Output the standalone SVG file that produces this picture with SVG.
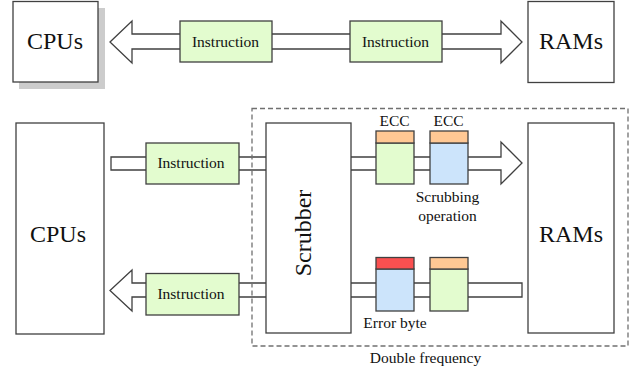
<svg xmlns="http://www.w3.org/2000/svg" width="643" height="371" viewBox="0 0 643 371" font-family="Liberation Serif, Times New Roman, serif">
<style>
.box{fill:#fff;stroke:#404040;stroke-width:1.3}
.arrow{fill:#fff;stroke:#404040;stroke-width:1.3;stroke-linejoin:miter}
.instr{fill:#e3fccf;stroke:#404040;stroke-width:1.3}
.green{fill:#e3fccf;stroke:#404040;stroke-width:1.3}
.blue{fill:#cce4fb;stroke:#404040;stroke-width:1.3}
.orange{fill:#ffc894;stroke:#404040;stroke-width:1.3}
.red{fill:#fa5050;stroke:#404040;stroke-width:1.3}
.frame{fill:none;stroke:#707070;stroke-width:1.3;stroke-dasharray:5 3}
text{fill:#111;text-anchor:middle}
.big{font-size:24px}
.mid{font-size:15.5px}
</style>
<g id="connectors">
<polygon class="arrow" points="110,42 132,21 132,34 501,34 501,21 522,42 501,63 501,49 132,49 132,63"/>
<polygon class="arrow" points="111,157 501,157 501,142 522,163 501,184 501,170 111,170"/>
<polygon class="arrow" points="522,283 132,283 132,270 110,290.5 132,311 132,297 522,297"/>
</g>
<g id="cpus-top">
<rect x="19" y="8" width="86" height="81" fill="#cccccc"/>
<rect class="box" x="13" y="1.5" width="85" height="80.5"/>
<text class="big" x="55" y="49">CPUs</text>
</g>
<g id="rams-top">
<rect class="box" x="528" y="1.5" width="86" height="81"/>
<text class="big" x="571" y="48.5">RAMs</text>
</g>
<g id="instruction-top-1">
<rect class="instr" x="180" y="21" width="92" height="41"/>
<text class="mid" x="225.5" y="46.5">Instruction</text>
</g>
<g id="instruction-top-2">
<rect class="instr" x="350" y="21" width="92" height="41"/>
<text class="mid" x="395.5" y="46.5">Instruction</text>
</g>
<g id="cpus-bottom">
<rect class="box" x="16" y="123" width="88" height="211"/>
<text class="big" x="58" y="242">CPUs</text>
</g>
<g id="scrubber">
<rect class="box" x="266" y="123" width="85" height="210"/>
<text class="big" transform="translate(311,233) rotate(-90)" x="0" y="0">Scrubber</text>
</g>
<g id="rams-bottom">
<rect class="box" x="528" y="123" width="86" height="210"/>
<text class="big" x="571" y="242">RAMs</text>
</g>
<g id="instruction-bottom-1">
<rect class="instr" x="146" y="143" width="93" height="41"/>
<text class="mid" x="191" y="168">Instruction</text>
</g>
<g id="instruction-bottom-2">
<rect class="instr" x="146" y="273.5" width="93" height="41.5"/>
<text class="mid" x="191" y="299">Instruction</text>
</g>
<g id="packet-ecc-1">
<rect class="green" x="376" y="143" width="38" height="41"/>
<rect class="orange" x="376" y="131" width="38" height="12"/>
<text class="mid" x="394.5" y="126">ECC</text>
</g>
<g id="packet-ecc-2">
<rect class="blue" x="430" y="143" width="38" height="41"/>
<rect class="orange" x="430" y="131" width="38" height="12"/>
<text class="mid" x="448.5" y="126">ECC</text>
</g>
<g id="scrubbing-label">
<text class="mid" x="447.5" y="202">Scrubbing</text>
<text class="mid" x="447.5" y="221">operation</text>
</g>
<g id="packet-error">
<rect class="blue" x="376" y="269" width="38" height="42"/>
<rect class="red" x="376" y="257.5" width="38" height="11.5"/>
<text class="mid" x="395" y="327.5">Error byte</text>
</g>
<g id="packet-ok">
<rect class="green" x="430" y="269" width="38" height="42"/>
<rect class="orange" x="430" y="257.5" width="38" height="11.5"/>
</g>
<g id="double-frequency">
<rect class="frame" x="252" y="108.5" width="376" height="237.5"/>
<text class="mid" x="425.5" y="363">Double frequency</text>
</g>
</svg>
